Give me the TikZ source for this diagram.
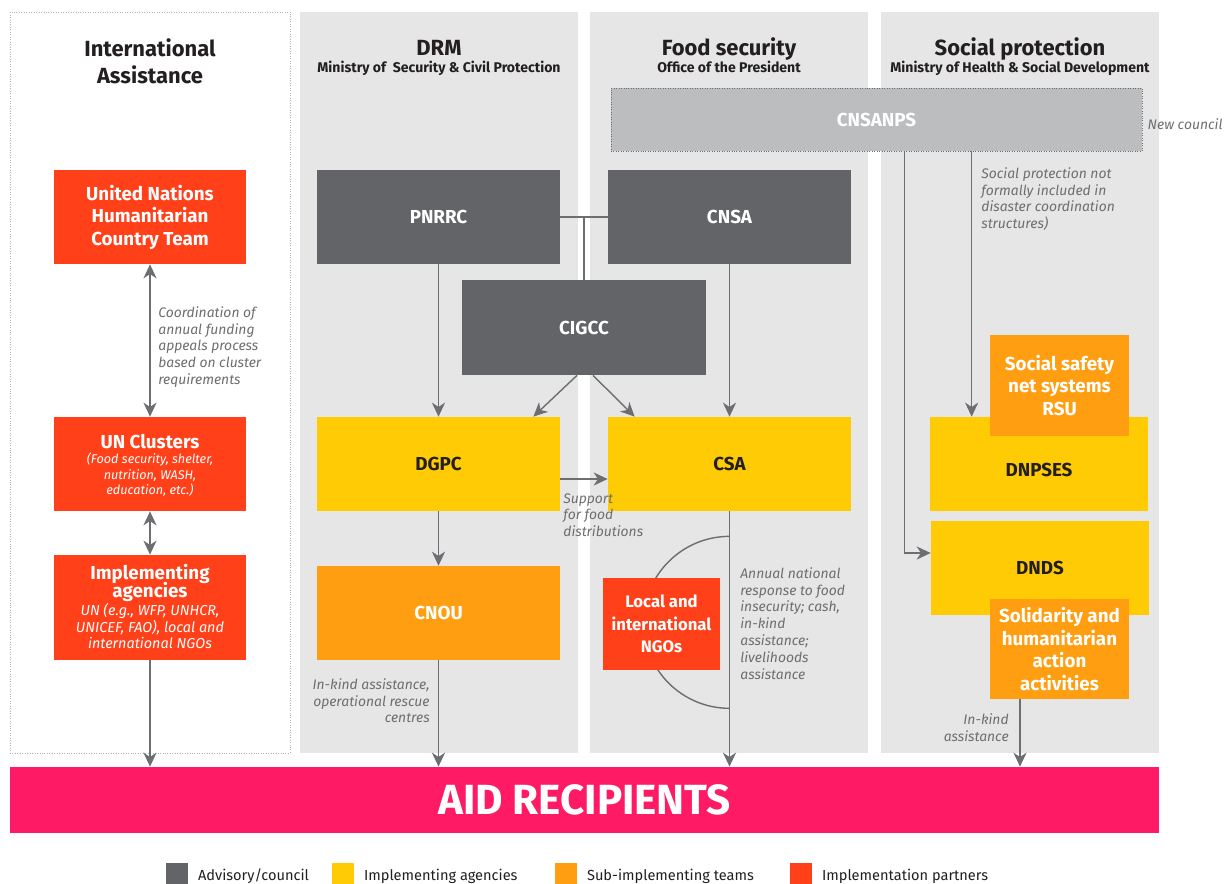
\documentclass[tikz,border=0pt]{standalone}
\usepackage{fontspec}
\setmainfont{Fira Sans}
\usetikzlibrary{arrows.meta,calc}
\definecolor{cline}{HTML}{6D6E71}
\definecolor{cadvisory}{HTML}{636468}
\definecolor{cagency}{HTML}{FFCB05}
\definecolor{csubteam}{HTML}{FF9E10}
\definecolor{cpartner}{HTML}{FF4019}
\definecolor{caid}{HTML}{FF1A66}
\definecolor{ccol}{HTML}{E6E6E6}
\definecolor{ccouncil}{HTML}{BCBDBF}
\definecolor{ctext}{HTML}{231F20}

\begin{document}
\begin{tikzpicture}[
    x=0.02cm, y=-0.02cm,
    sz/.style 2 args={minimum width=#1*0.02cm, minimum height=#2*0.02cm},
    colbg/.style={fill=ccol, inner sep=0pt},
    head/.style={font=\bfseries\fontsize{12.5}{15.3}\selectfont, align=center, inner sep=0pt, text=ctext},
    subhead/.style={font=\bfseries\fontsize{8}{9}\selectfont, inner sep=0pt, text=ctext},
    box/.style={inner sep=0pt, align=center, font=\bfseries\fontsize{10.7}{12.8}\selectfont},
    boxsub/.style={inner sep=0pt, align=center, text=white, font=\itshape\fontsize{7.2}{8.8}\selectfont},
    advisory/.style={box, fill=cadvisory, text=white},
    agency/.style={box, fill=cagency, text=ctext},
    subteam/.style={box, fill=csubteam, text=white},
    partner/.style={box, fill=cpartner, text=white},
    note/.style={font=\itshape\fontsize{7.9}{9.6}\selectfont, text=cline, inner sep=0pt},
    legend/.style={font=\fontsize{8.3}{10}\selectfont, text=ctext, inner sep=0pt},
    link/.style={draw=cline, line width=0.8pt},
    arr/.style={link, -{Stealth[length=8pt, width=7.5pt, inset=2.5pt]}},
    dual/.style={link, {Stealth[length=8pt, width=7.5pt, inset=2.5pt]}-{Stealth[length=8pt, width=7.5pt, inset=2.5pt]}}
]
  \useasboundingbox (0,0) rectangle (1230,883);

  % columns
  \node[sz={280}{741}, draw=black!30, densely dotted, fill=white, inner sep=0pt] (colint) at (150,382.5) {};
  \foreach \n/\x in {drm/439, food/729, soc/1019.5}
    \node[colbg, sz={278}{741}] (col\n) at (\x,382.5) {};

  \node[head] (hint) at (150,61) {International\\Assistance};
  \node[head, anchor=base] (hdrm) at (439,55.5) {DRM};
  \node[subhead, anchor=base] (sdrm) at (439,72.5) {Ministry of\ \ Security \& Civil Protection};
  \node[head, anchor=base] (hfood) at (729,55.5) {Food security};
  \node[subhead, anchor=base] (sfood) at (729,72.5) {Office of the President};
  \node[head, anchor=base] (hsoc) at (1020,55.5) {Social protection};
  \node[subhead, anchor=base] (ssoc) at (1020,72.5) {Ministry of Health \& Social Development};

  % boxes
  \node[advisory, sz={531}{63}, fill=ccouncil, draw=cline, densely dotted] (cnsanps) at (876.5,119.5) {CNSANPS};
  \node[partner, sz={192}{94}] (unhct) at (150,217) {United Nations\\Humanitarian\\Country Team};
  \node[advisory, sz={243}{94}] (pnrrc) at (438.5,217) {PNRRC};
  \node[advisory, sz={243}{94}] (cnsa) at (729.5,217) {CNSA};
  \node[advisory, sz={244}{95}] (cigcc) at (584,327.5) {CIGCC};
  \node[agency, sz={243}{94}] (dgpc) at (438.5,464) {DGPC};
  \node[agency, sz={243}{94}] (csa) at (729.5,464) {CSA};
  \node[subteam, sz={243}{94}] (cnou) at (438.5,613) {CNOU};
  \coordinate (ngotop) at ($(csa.south)+(0,25)$);
  \draw[link] (ngotop) arc[start angle=90, end angle=270, radius=1.72cm];
  \node[partner, sz={117}{92}, font=\bfseries\fontsize{9.5}{12.8}\selectfont] (ngo) at (661.5,624) {Local and\\international\\NGOs};
  \node[agency, sz={218}{94}, label={[box, text=ctext, yshift=-0.12cm]center:DNPSES}] (dnpses) at (1039,464) {};
  \node[subteam, sz={139}{101}] (rsu) at (1059.5,385.5) {Social safety\\net systems\\RSU};
  \node[agency, sz={218}{94}] (dnds) at (1040,568) {DNDS};
  \node[subteam, sz={139}{100}] (solid) at (1059.5,649) {Solidarity and\\humanitarian\\action\\activities};

  \node[partner, sz={192}{94}] (clusters) at (150,464) {};
  \node[box, text=white] (clusterst) at (150,442) {UN Clusters};
  \node[boxsub] (clusterss) at (150,475) {(Food security, shelter,\\nutrition, WASH,\\education, etc.)};
  \node[partner, sz={192}{105}] (impl) at (150,607.5) {};
  \node[box, text=white] (implt) at (150,583) {Implementing\\[-3pt]agencies};
  \node[boxsub, font=\itshape\fontsize{8.2}{9.6}\selectfont] (impls) at (150,626) {UN (e.g., WFP, UNHCR,\\UNICEF, FAO), local and\\international NGOs};

  \node[box, fill=caid, text=white, sz={1149}{66}, font=\bfseries\fontsize{24}{28}\selectfont] (aid) at (584.5,800) {AID RECIPIENTS};

  % connectors
  \draw[dual] (unhct) -- (clusters);
  \draw[dual] (clusters) -- (impl);
  \draw[arr] (impl) -- (impl |- aid.north);
  \draw[arr] (pnrrc) -- (dgpc);
  \draw[arr] (dgpc) -- (cnou);
  \draw[arr] (cnou) -- (cnou |- aid.north);
  \draw[arr] (cnsa) -- (csa);
  \draw[arr] (csa) -- (csa |- aid.north);
  \draw[link] (pnrrc) -- (cnsa);
  \draw[link] (cigcc.north |- pnrrc.east) -- (cigcc);
  \draw[arr] ($(cigcc.south)+(-7,0)$) -- ($(dgpc.north east)+(-27,0)$);
  \draw[arr] ($(cigcc.south)+(9,0)$) -- ($(csa.north west)+(27,0)$);
  \draw[arr] ($(dgpc.east)+(0,15)$) -- ($(csa.west)+(0,15)$);
  \coordinate (spa) at ($(cnsanps.south west)+(294,0)$);
  \coordinate (spb) at ($(cnsanps.south west)+(361,0)$);
  \draw[arr] (spa) |- ($(dnds.west)+(0,-15)$);
  \draw[arr] (spb) -- (spb |- dnpses.north);
  \coordinate (solidout) at ($(solid.south)+(-39.5,0)$);
  \draw[arr] (solidout) -- (solidout |- aid.north);

  % notes
  \node[note, align=left, anchor=north west] (coordnote) at (158,306) {Coordination of\\annual funding\\appeals process\\based on cluster\\requirements};
  \node[note, align=left, anchor=north west] (supnote) at (563,493) {Support\\for food\\distributions};
  \node[note, align=right, anchor=north east] (drmnote) at (430,678) {In-kind assistance,\\operational rescue\\centres};
  \node[note, align=left, anchor=north west] (csanote) at (740,567) {Annual national\\response to food\\insecurity; cash,\\in-kind\\assistance;\\livelihoods\\assistance};
  \node[note, align=left, anchor=north west] (socnote) at (981,167) {Social protection not\\formally included in\\disaster coordination\\structures)};
  \node[note, align=right, anchor=north east] (solnote) at (1009,713) {In-kind\\assistance};
  \node[note, anchor=west] (newnote) at ($(cnsanps.east)+(5,5)$) {New council};

  % legend
  \foreach \c/\t/\x [count=\i] in {cadvisory/{Advisory/council}/166, cagency/{Implementing agencies}/332, csubteam/{Sub-implementing teams}/555, cpartner/{Implementation partners}/790} {
    \node[fill=\c, sz={22}{21}, inner sep=0pt, anchor=north west] (key\i) at (\x,863) {};
    \node[legend, anchor=west] (keyt\i) at ($(key\i.east)+(9,2)$) {\t};
  }
\end{tikzpicture}
\end{document}
